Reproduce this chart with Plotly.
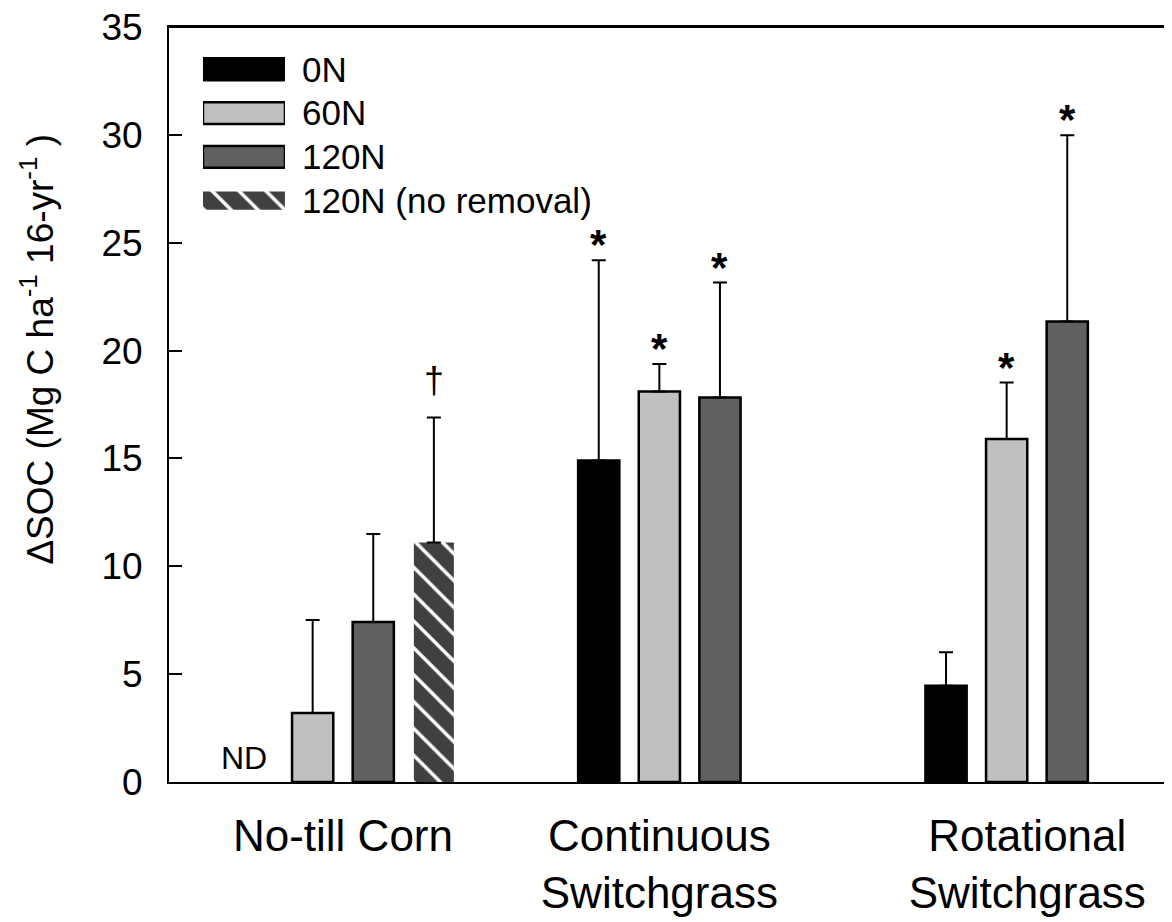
import plotly.graph_objects as go

# ---------------- data ----------------
groups = ["No-till Corn", "Continuous<br>Switchgrass", "Rotational<br>Switchgrass"]
group_center = [2.87, 8.09, 13.82]      # in bar-slot units
label_center = [2.87, 8.09, 14.16]
series = ["0N", "60N", "120N", "120N (no removal)"]
colors = ["#000000", "#c0c0c0", "#606060", "#404040"]

mean_0N = [None, 14.9, 4.46]
mean_60N = [3.2, 18.1, 15.9]
mean_120N = [7.42, 17.82, 21.35]
mean_120N_nr = [11.1, None, None]

err_0N = [None, 9.29, 1.55]
err_60N = [4.31, 1.28, 2.62]
err_120N = [4.08, 5.33, 8.63]
err_120N_nr = [5.8, None, None]

sig_0N = ["", "*", ""]
sig_60N = ["", "*", "*"]
sig_120N = ["", "*", "*"]
sig_120N_nr = ["\u2020", "", ""]

y_max = 35
x_max = 16.68

means = [mean_0N, mean_60N, mean_120N, mean_120N_nr]
errs = [err_0N, err_60N, err_120N, err_120N_nr]
sigs = [sig_0N, sig_60N, sig_120N, sig_120N_nr]

offsets_nt = [-1.5, -0.5, 0.5, 1.5]
offsets_sw = [-1.0, 0.0, 1.0, None]

def xpos(series_i, group_i):
    off = offsets_nt[series_i] if group_i == 0 else offsets_sw[series_i]
    return group_center[group_i] + off

fig = go.Figure()
annotations = []

for si, name in enumerate(series):
    xs, ys, es = [], [], []
    for gi in range(len(groups)):
        if means[si][gi] is None:
            continue
        xs.append(xpos(si, gi))
        ys.append(means[si][gi])
        es.append(errs[si][gi])
        if sigs[si][gi]:
            is_dagger = sigs[si][gi] == "\u2020"
            annotations.append(dict(
                x=xpos(si, gi), y=means[si][gi] + errs[si][gi], xref="x", yref="y",
                text=sigs[si][gi] if is_dagger else "<b>*</b>", showarrow=False,
                yanchor="bottom", yshift=14 if is_dagger else -10,
                font=dict(size=36 if is_dagger else 42, color="black")))
    hatched = si == 3
    marker = dict(color=colors[si], line=dict(color="black", width=0 if hatched else 2.5))
    if hatched:
        marker["pattern"] = dict(shape="\\", fgcolor="white", bgcolor=colors[si],
                                 size=19, solidity=0.18, fillmode="replace")
    fig.add_trace(go.Bar(
        x=xs, y=ys, name=name, width=0.66 if hatched else 0.68,
        marker=marker,
        error_y=dict(type="data", symmetric=False, array=es, arrayminus=[0] * len(es),
                     color="black", thickness=2, width=7),
        xaxis="x", yaxis="y", showlegend=False))

# top frame line of the plot area
fig.add_trace(go.Scatter(x=[0, x_max], y=[y_max, y_max], mode="lines",
                         line=dict(color="black", width=2), cliponaxis=False,
                         showlegend=False, hoverinfo="skip", xaxis="x", yaxis="y"))

# ND label for missing 0N value in No-till Corn
annotations.append(dict(x=xpos(0, 0), y=0, xref="x", yref="y", text="ND", showarrow=False,
                        yanchor="bottom", xshift=-8, yshift=4, font=dict(size=32, color="black")))

# legend swatches drawn as horizontal bars on a small helper axis
for si, name in enumerate(series):
    hatched = si == 3
    marker = dict(color=colors[si], line=dict(color="black", width=0 if hatched else 2.5))
    if hatched:
        marker["pattern"] = dict(shape="\\", fgcolor="white", bgcolor=colors[si],
                                 size=19, solidity=0.18, fillmode="replace")
    fig.add_trace(go.Bar(
        x=[1], y=[si], orientation="h", width=0.42 if hatched else 0.5,
        marker=marker, xaxis="x2", yaxis="y2", showlegend=False, hoverinfo="skip"))

# y-axis title
annotations.append(dict(
    x=-0.1296, y=0.574, xref="paper", yref="paper", textangle=-90, showarrow=False,
    xanchor="center", yanchor="middle",
    text="\u0394SOC (Mg C ha<sup>-1</sup> 16-yr<sup>-1</sup> )",
    font=dict(size=37, color="black")))

fig.update_layout(
    width=1172, height=922,
    margin=dict(l=161, r=0, t=19, b=148, autoexpand=False),
    paper_bgcolor="white", plot_bgcolor="white",
    font=dict(family="Liberation Sans, Arial, sans-serif", color="black"),
    barmode="overlay", showlegend=False,
    xaxis=dict(range=[0, x_max], tickvals=label_center, ticktext=groups, ticks="",
               showline=True, mirror=True, linewidth=2, linecolor="black", showgrid=False,
               zeroline=False, tickfont=dict(size=44), ticklabelstandoff=14, automargin=False),
    yaxis=dict(range=[0, y_max], tickvals=[0, 5, 10, 15, 20, 25, 30, 35], ticks="inside",
               ticklen=13, tickwidth=2, tickcolor="black", showline=True, linewidth=2,
               linecolor="black", showgrid=False, zeroline=False, tickfont=dict(size=37),
               ticklabelstandoff=17, automargin=False, ticklabeloverflow="allow"),
    xaxis2=dict(domain=[0.0336, 0.1147], range=[0, 1], visible=False, anchor="y2",
                automargin=False),
    yaxis2=dict(domain=[0.741, 0.973], range=[3.5, -0.5], anchor="x2", side="right",
                tickvals=[0, 1, 2, 3], ticktext=series, ticks="", showline=False,
                showgrid=False, zeroline=False, tickfont=dict(size=35), ticklabelstandoff=16,
                automargin=False),
    shapes=[dict(type="line", xref="paper", yref="paper", x0=0, x1=1, y0=1, y1=1,
                 layer="above", line=dict(color="black", width=2))],
    annotations=annotations,
)

fig.write_html("out.html", config={"displayModeBar": False})
